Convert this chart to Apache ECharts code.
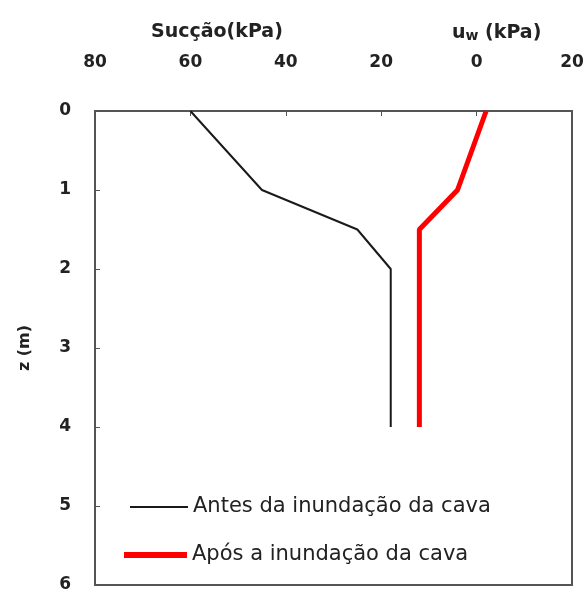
<!DOCTYPE html>
<html>
<head>
<meta charset="utf-8">
<script src="https://cdn.jsdelivr.net/npm/echarts@6/dist/echarts.min.js"></script>
<style>html,body{margin:0;padding:0;background:#fff}#c{width:587px;height:594px}</style>
</head>
<body>
<div id="c"></div>
<script>
// Data (suction in kPa; negative suction = positive pore pressure uw)
const depthBefore = [0, 1, 1.5, 2, 4];
const suctionBefore = [60, 45, 25, 18, 18];
const depthAfter = [0, 1, 1.5, 4];
const suctionAfter = [-2, 4, 12, 12];
const seriesNames = ['Antes da inundação da cava', 'Após a inundação da cava'];
const xTicks = [80, 60, 40, 20, 0, -20];
const yTicks = [0, 1, 2, 3, 4, 5, 6];

const FF = 'DejaVu Sans';
const chart = echarts.init(document.getElementById('c'));
chart.setOption({
  animation: false,
  backgroundColor: '#fff',
  title: [
    { text: 'Sucção(kPa)', left: 146, top: 18,
      textStyle: { fontFamily: FF, fontSize: 19, fontWeight: 'bold', color: '#222' } },
    { text: 'u{s|w} (kPa)', left: 447, top: 18,
      textStyle: { fontFamily: FF, fontSize: 19, fontWeight: 'bold', color: '#222',
        rich: { s: { fontFamily: FF, fontSize: 14, fontWeight: 'bold', color: '#222', verticalAlign: 'bottom', padding: [6, 0, 0, 0] } } } }
  ],
  grid: { left: 95, right: 15, top: 111, bottom: 9, show: true, borderColor: '#555', borderWidth: 2 },
  legend: [
    { data: [seriesNames[0]], left: 125, top: 490, icon: 'rect', itemWidth: 58, itemHeight: 2,
      textStyle: { fontFamily: FF, fontSize: 21, color: '#222', lineHeight: 24 } },
    { data: [seriesNames[1]], left: 119, top: 538, icon: 'rect', itemWidth: 63, itemHeight: 6,
      textStyle: { fontFamily: FF, fontSize: 21, color: '#222', lineHeight: 24 } }
  ],
  xAxis: {
    type: 'value', position: 'top', inverse: true, min: -20, max: 80, interval: 20,
    axisLine: { show: true, onZero: false, lineStyle: { color: '#555', width: 2 } },
    axisTick: { inside: true, length: 5, lineStyle: { color: '#555' } },
    splitLine: { show: false },
    axisLabel: { margin: 40, fontFamily: FF, fontSize: 17, fontWeight: 'bold', color: '#222',
      formatter: v => xTicks.includes(v) ? String(Math.abs(v)) : '' }
  },
  yAxis: {
    type: 'value', inverse: true, min: 0, max: 6, interval: 1,
    name: 'z (m)', nameLocation: 'middle', nameGap: 62, nameRotate: 90,
    nameTextStyle: { fontFamily: FF, fontSize: 16, fontWeight: 'bold', color: '#222' },
    axisLine: { show: true, onZero: false, lineStyle: { color: '#555', width: 2 } },
    axisTick: { inside: true, length: 5, lineStyle: { color: '#555' } },
    splitLine: { show: false },
    axisLabel: { margin: 24, fontFamily: FF, fontSize: 17, fontWeight: 'bold', color: '#222',
      formatter: v => yTicks.includes(v) ? String(v) : '' }
  },
  series: [
    { name: seriesNames[0], type: 'line', showSymbol: false, symbol: 'none',
      itemStyle: { color: '#1a1a1a' }, lineStyle: { color: '#1a1a1a', width: 2 },
      data: depthBefore.map((z, i) => [suctionBefore[i], z]) },
    { name: seriesNames[1], type: 'line', showSymbol: false, symbol: 'none',
      itemStyle: { color: '#ff0000' }, lineStyle: { color: '#ff0000', width: 5 },
      data: depthAfter.map((z, i) => [suctionAfter[i], z]) }
  ]
});
</script>
</body>
</html>
